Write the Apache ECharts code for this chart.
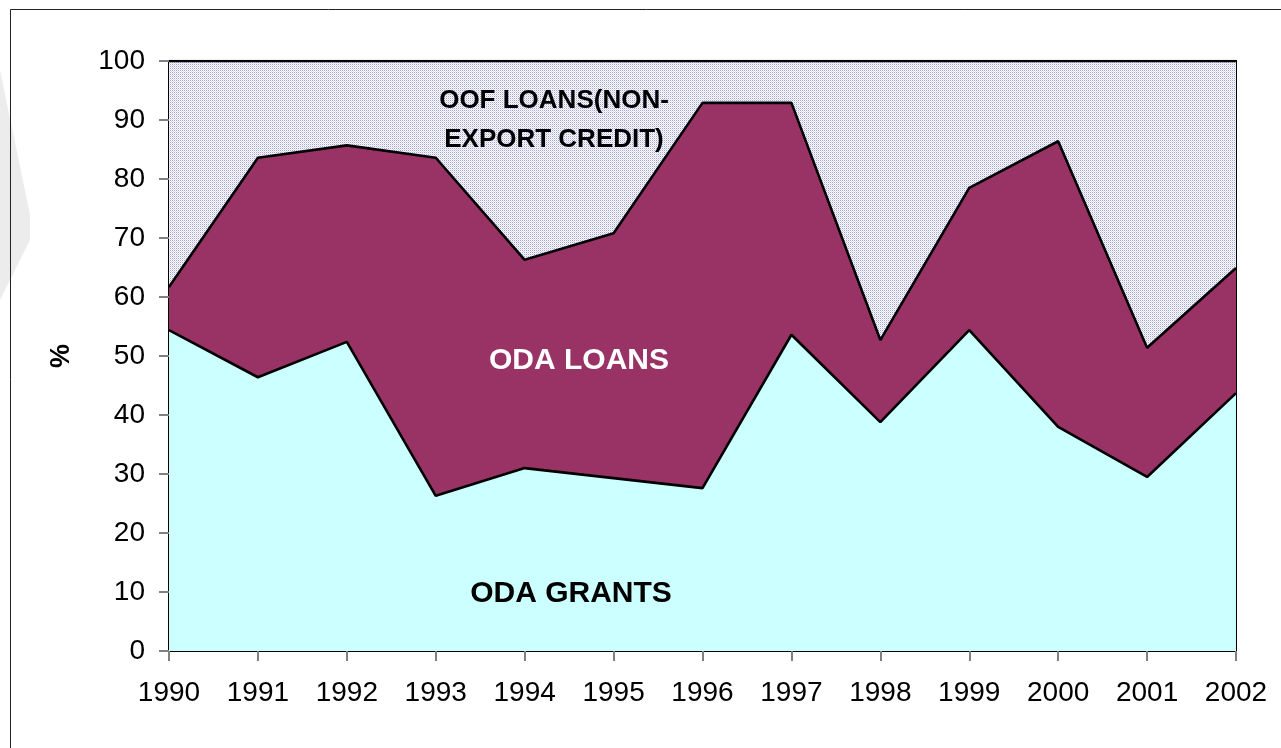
<!DOCTYPE html>
<html>
<head>
<meta charset="utf-8">
<script src="https://cdn.jsdelivr.net/npm/echarts@6/dist/echarts.min.js"></script>
<style>
  html, body { margin: 0; padding: 0; background: #fff; }
  #chart { width: 1281px; height: 748px; }
</style>
</head>
<body>
<div id="chart"></div>
<script>
// years on the x axis
var years = ['1990', '1991', '1992', '1993', '1994', '1995', '1996', '1997', '1998', '1999', '2000', '2001', '2002'];
// shares in %, stacked bottom to top
var odaGrants = [54.4, 46.4, 52.4, 26.3, 31.0, 29.3, 27.6, 53.6, 38.8, 54.4, 38.0, 29.5, 43.7];
var odaLoans  = [7.3, 37.2, 33.3, 57.3, 35.3, 41.5, 65.3, 39.3, 13.9, 24.1, 48.4, 21.9, 21.2];
var oofLoans  = [38.3, 16.4, 14.3, 16.4, 33.7, 29.2, 7.1, 7.1, 47.3, 21.5, 13.6, 48.6, 35.1];
var yTicks = [0, 10, 20, 30, 40, 50, 60, 70, 80, 90, 100];

// dotted fill for the OOF area
function makePattern() {
  var c = document.createElement('canvas');
  c.width = 2; c.height = 2;
  var ctx = c.getContext('2d');
  ctx.fillStyle = '#ffffff'; ctx.fillRect(0, 0, 2, 2);
  ctx.fillStyle = '#a4a4d6'; ctx.fillRect(0, 0, 1, 1);
  ctx.fillStyle = '#dadaf0'; ctx.fillRect(1, 1, 1, 1);
  return c;
}

var chart = echarts.init(document.getElementById('chart'));
var font = 'Liberation Sans, Arial, sans-serif';
var edge = { color: '#000', width: 2.6 };

chart.setOption({
  animation: false,
  backgroundColor: '#fff',
  grid: { left: 169, right: 45, top: 61, bottom: 97, show: true, borderColor: '#000', borderWidth: 2, backgroundColor: 'transparent' },
  xAxis: {
    type: 'category',
    data: years,
    boundaryGap: false,
    axisLine: { lineStyle: { color: '#000', width: 2 } },
    axisTick: { show: true, length: 10, lineStyle: { color: '#808080', width: 2 } },
    axisLabel: { color: '#000', fontSize: 28, fontFamily: font, margin: 28 },
    splitLine: { show: false }
  },
  yAxis: {
    type: 'value',
    min: yTicks[0],
    max: yTicks[yTicks.length - 1],
    interval: 10,
    name: '%',
    nameLocation: 'middle',
    nameGap: 94,
    nameRotate: 90,
    nameTextStyle: { color: '#000', fontSize: 27, fontWeight: 'bold', fontFamily: font },
    axisLine: { show: true, lineStyle: { color: '#000', width: 2 } },
    axisTick: { show: true, length: 10, lineStyle: { color: '#808080', width: 2 } },
    axisLabel: { color: '#000', fontSize: 28, fontFamily: font, margin: 24 },
    splitLine: { show: false }
  },
  series: [
    {
      name: 'ODA GRANTS', type: 'line', stack: 'all', data: odaGrants,
      symbol: 'none', lineStyle: edge, areaStyle: { color: '#ccffff', opacity: 1 }, z: 3
    },
    {
      name: 'ODA LOANS', type: 'line', stack: 'all', data: odaLoans,
      symbol: 'none', lineStyle: edge, areaStyle: { color: '#993366', opacity: 1 }, z: 2
    },
    {
      name: 'OOF LOANS(NON-EXPORT CREDIT)', type: 'line', stack: 'all', data: oofLoans,
      symbol: 'none', lineStyle: edge, areaStyle: { color: { image: makePattern(), repeat: 'repeat' }, opacity: 1 }, z: 1
    }
  ],
  graphic: [
    { type: 'polygon', z: -10, silent: true,
      shape: { points: [[0, 70], [30, 215], [30, 240], [0, 300]] },
      style: { fill: '#ececec' } },
    { type: 'rect', z: 100, silent: true,
      shape: { x: 10.5, y: 9.5, width: 1400, height: 900 },
      style: { fill: 'none', stroke: '#222', lineWidth: 1 } },
    { type: 'text', z: 100, silent: true, x: 554, y: 120,
      style: { text: 'OOF LOANS(NON-\nEXPORT CREDIT)', fill: '#000', font: 'bold 26px ' + font,
        align: 'center', verticalAlign: 'middle', lineHeight: 39 } },
    { type: 'text', z: 100, silent: true, x: 579, y: 361,
      style: { text: 'ODA LOANS', fill: '#fff', font: 'bold 30px ' + font, align: 'center', verticalAlign: 'middle' } },
    { type: 'text', z: 100, silent: true, x: 571, y: 594,
      style: { text: 'ODA GRANTS', fill: '#000', font: 'bold 30px ' + font, align: 'center', verticalAlign: 'middle' } }
  ]
});
</script>
</body>
</html>
